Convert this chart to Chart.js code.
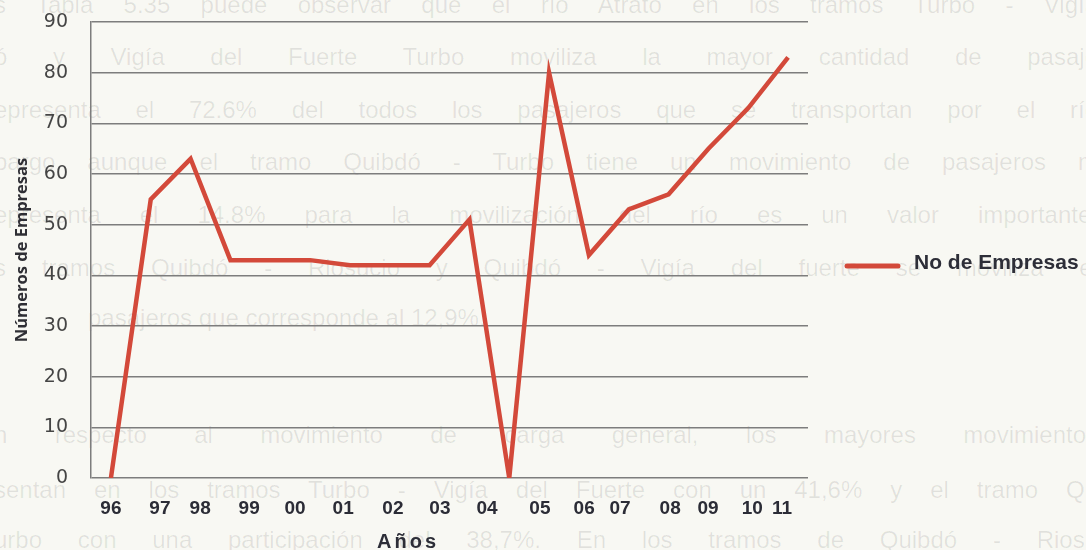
<!DOCTYPE html>
<html lang="es">
<head>
<meta charset="utf-8">
<title>Números de Empresas por año</title>
<script src="https://cdn.jsdelivr.net/npm/chart.js@4.4.1/dist/chart.umd.min.js"></script>
<style>
  html, body { margin: 0; padding: 0; background: #f8f8f3; }
  #wrap { position: relative; width: 1086px; height: 550px; overflow: hidden; }
  #page {
    position: absolute; left: 0; top: 0; width: 1086px; height: 550px;
    font-family: "Liberation Sans", Arial, sans-serif; font-size: 24px;
    color: rgba(0, 0, 0, 0.09);
  }
  #page div {
    position: absolute; left: -6px; width: 1104px; line-height: 26px;
    text-align: justify; text-align-last: justify; white-space: normal;
  }
  #page div.short { text-align: left; text-align-last: left; width: auto; white-space: nowrap; }
  canvas { position: absolute; left: 0; top: 0; }
</style>
</head>
<body>
<div id="wrap">
  <!-- printed page text underneath the figure -->
  <div id="page">
    <div style="top:-8px">s Tabla 5.35 puede observar que el río Atrato en los tramos Turbo - Vigía</div>
    <div style="top:44px">ó y Vigía del Fuerte Turbo moviliza la mayor cantidad de pasaje</div>
    <div style="top:97px">epresenta el 72.6% del todos los pasajeros que se transportan por el río</div>
    <div style="top:149px">bargo aunque el tramo Quibdó - Turbo tiene un movimiento de pasajeros m</div>
    <div style="top:202px">epresenta el 14.8% para la movilización del río es un valor importante,</div>
    <div style="top:255px">s tramos Quibdó - Riosucio y Quibdó - Vigía del fuerte se moviliza el</div>
    <div class="short" style="top:305px; left:88px">pasajeros que corresponde al 12,9%.</div>
    <div style="top:422px">n respecto al movimiento de carga general, los mayores movimientos</div>
    <div style="top:477px">sentan en los tramos Turbo - Vigía del Fuerte con un 41,6% y el tramo Qu</div>
    <div style="top:527px">urbo con una participación del 38,7%. En los tramos de Quibdó - Riosu</div>
  </div>
  <canvas id="chart" width="1086" height="550"></canvas>
</div>
<script>
// Year labels along the bottom axis and where each one sits on the point index scale
const years      = ['96', '97', '98', '99', '00', '01', '02', '03', '04', '05', '06', '07', '08', '09', '10', '11'];
const yearTickAt = [0, 1.23, 2.24, 3.47, 4.62, 5.83, 7.08, 8.26, 9.44, 10.77, 11.88, 12.78, 14.04, 14.99, 16.1, 16.85];

// Number of companies, one value per plotted point
const empresas = [0, 55, 63, 43, 43, 43, 42, 42, 42, 51, 0, 80, 44, 53, 56, 65, 73, 83];

// Value axis ticks
const yTicks = [0, 10, 20, 30, 40, 50, 60, 70, 80, 90];

const seriesName = 'No de Empresas';
const axisYTitle = 'Números de Empresas';
const axisXTitle = 'Años';

const lineColor = '#d3493a';
const gridColor = '#7d7d7d';

// Legend entry on the right of the plot
const sideLegend = {
  id: 'sideLegend',
  afterDraw(chart) {
    const { ctx, chartArea } = chart;
    const ds = chart.data.datasets[0];
    const x0 = chartArea.right + 37;
    const y0 = (chartArea.top + chartArea.bottom) / 2 + 16;
    ctx.save();
    ctx.strokeStyle = ds.borderColor;
    ctx.lineWidth = 5;
    ctx.lineCap = 'round';
    ctx.beginPath();
    ctx.moveTo(x0 + 2, y0);
    ctx.lineTo(x0 + 53, y0);
    ctx.stroke();
    ctx.fillStyle = '#2d2e38';
    ctx.font = 'bold 21px "Liberation Sans", Arial, sans-serif';
    ctx.textAlign = 'left';
    ctx.textBaseline = 'alphabetic';
    ctx.fillText(ds.label, x0 + 69, y0 + 3);
    ctx.restore();
  }
};

// Caption under the year labels
const bottomCaption = {
  id: 'bottomCaption',
  afterDraw(chart) {
    const { ctx, chartArea } = chart;
    ctx.save();
    ctx.fillStyle = '#2d2e38';
    ctx.font = 'bold 20px "Liberation Sans", Arial, sans-serif';
    ctx.letterSpacing = '3px';
    ctx.textAlign = 'left';
    ctx.textBaseline = 'alphabetic';
    ctx.fillText(axisXTitle, chartArea.left + 286, chartArea.bottom + 70);
    ctx.restore();
  }
};

new Chart(document.getElementById('chart'), {
  type: 'line',
  data: {
    datasets: [{
      label: seriesName,
      data: empresas.map((v, i) => ({ x: i, y: v })),
      borderColor: lineColor,
      backgroundColor: lineColor,
      borderWidth: 4.5,
      pointRadius: 0,
      pointHoverRadius: 0,
      tension: 0,
      borderJoinStyle: 'miter',
      fill: false
    }]
  },
  options: {
    responsive: false,
    animation: false,
    devicePixelRatio: 1,
    layout: { padding: { top: 22, right: 278, bottom: 0, left: 0 } },
    plugins: {
      legend: { display: false },
      tooltip: { enabled: false }
    },
    scales: {
      x: {
        type: 'linear',
        min: -0.5,
        max: 17.5,
        afterBuildTicks(scale) {
          scale.ticks = yearTickAt.map(v => ({ value: v }));
        },
        afterFit(scale) { scale.height = 72; },
        grid: { display: false },
        border: { display: false },
        ticks: {
          autoSkip: false,
          maxRotation: 0,
          minRotation: 0,
          padding: 11,
          color: '#2b2c36',
          font: { family: '"Liberation Sans", Arial, sans-serif', weight: 'bold', size: 19 },
          callback: (value, index) => years[index]
        }
      },
      y: {
        min: yTicks[0],
        max: yTicks[yTicks.length - 1],
        afterBuildTicks(scale) {
          scale.ticks = yTicks.map(v => ({ value: v }));
        },
        afterFit(scale) {
          scale.width = 91;
          scale.paddingTop = 0;
          scale.paddingBottom = 0;
        },
        grid: { color: gridColor, lineWidth: 1.5, drawTicks: false },
        border: { display: true, color: gridColor, width: 1.5 },
        ticks: {
          padding: 23,
          color: '#454545',
          font: { family: '"DejaVu Sans", Verdana, sans-serif', size: 19 }
        },
        title: {
          display: true,
          text: axisYTitle,
          color: '#2f2f35',
          font: { family: '"Open Sans", sans-serif', weight: 'bold', size: 16.5 },
          padding: { top: 12, bottom: 0 }
        }
      }
    }
  },
  plugins: [sideLegend, bottomCaption]
});
</script>
</body>
</html>
